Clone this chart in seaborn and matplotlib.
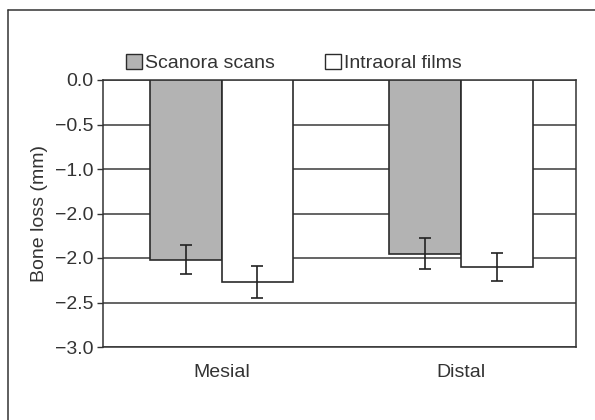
import pandas as pd
import matplotlib.pyplot as plt
import seaborn as sns
import numpy as np
from matplotlib.lines import Line2D
from matplotlib.patches import Patch

# Values
sites = ['Mesial', 'Distal']
methods = ['Scanora scans', 'Intraoral films']
scanora_means = [-2.02, -1.95]
scanora_err = [0.165, 0.17]
intraoral_means = [-2.27, -2.10]
intraoral_err = [0.175, 0.16]
ytick_values = [0.0, -0.5, -1.0, -1.5, -2.0, -2.5, -3.0]
ytick_labels = ['0.0', '\u22120.5', '\u22121.0', '\u22122.0', '\u22122.0', '\u22122.5', '\u22123.0']

df = pd.DataFrame({
    'Site': sites * 2,
    'Method': [methods[0]] * 2 + [methods[1]] * 2,
    'Loss': scanora_means + intraoral_means,
    'Err': scanora_err + intraoral_err,
})

sns.set_style('white')
plt.rcParams['font.family'] = ['Liberation Sans', 'DejaVu Sans']
fs = 14

fig = plt.figure(figsize=(5.95, 4.2), dpi=100)
ax = fig.add_axes([103 / 595, 1 - 347 / 420, 473 / 595, 267 / 420])

colors = {'Scanora scans': '#b3b3b3', 'Intraoral films': 'white'}
sns.barplot(data=df, x='Site', y='Loss', hue='Method', palette=colors,
            width=0.6, errorbar=None, edgecolor='#2b2b2b', linewidth=1.2,
            zorder=3, legend=False, ax=ax)

# error bars on top of the bars seaborn placed
for cont, method in zip(ax.containers, methods):
    sub = df[df['Method'] == method]
    xs = [b.get_x() + b.get_width() / 2 for b in cont]
    ax.errorbar(xs, sub['Loss'], yerr=sub['Err'], fmt='none', ecolor='#222222',
                elinewidth=1.2, capsize=4.5, capthick=1.2, zorder=4)

ax.set_ylim(-3.0, 0.0)
ax.set_xlim(-0.495, 1.48)
ax.set_yticks(ytick_values)
ax.set_yticklabels(ytick_labels)
ax.yaxis.grid(True, color='#3a3a3a', linewidth=1.1, zorder=0)
ax.set_axisbelow(True)
ax.tick_params(axis='y', length=4, width=1, color='#333333', labelsize=fs, pad=3, left=True)
ax.tick_params(axis='x', length=0, labelsize=fs, pad=12)
ax.set_xlabel('')
ax.set_ylabel('Bone loss (mm)', fontsize=fs, color='#333333', labelpad=5)
for lab in ax.get_xticklabels() + ax.get_yticklabels():
    lab.set_color('#333333')
for sp in ax.spines.values():
    sp.set_color('#333333')
    sp.set_linewidth(1.1)

handles = [Patch(facecolor=colors[m], edgecolor='#2b2b2b', linewidth=1.0) for m in methods]
ax.legend(handles, methods, ncol=2, frameon=False, loc='lower left',
          bbox_to_anchor=(0.025, 0.985), handlelength=0.8, handleheight=0.8,
          handletextpad=0.15, columnspacing=2.6, fontsize=fs, borderaxespad=0.2,
          labelcolor='#333333')

# outer frame (top and left visible in the reference)
fig.add_artist(Line2D([8 / 595, 8 / 595], [0, 1 - 10 / 420], color='#333333', linewidth=1.1))
fig.add_artist(Line2D([8 / 595, 1], [1 - 10 / 420, 1 - 10 / 420], color='#333333', linewidth=1.1))

fig.savefig('out.png', dpi=100)
